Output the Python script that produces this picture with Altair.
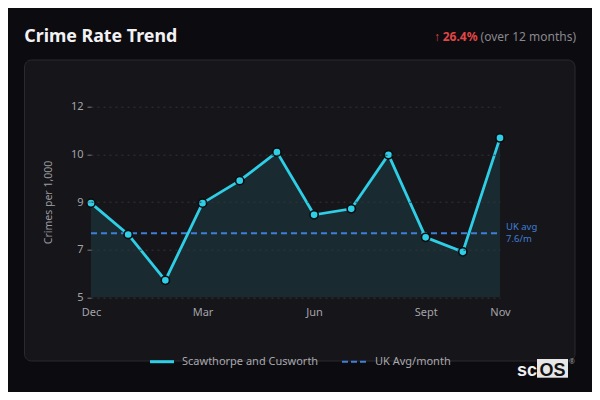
import altair as alt
import numpy as np
import pandas as pd

# ---- data ----
months = ["Dec", "Jan", "Feb", "Mar", "Apr", "May", "Jun", "Jul", "Aug", "Sept", "Oct", "Nov"]
rates = [8.66, 7.56, 5.95, 8.66, 9.45, 10.45, 8.25, 8.46, 10.36, 7.46, 6.95, 10.95]
shown_months = ["Dec", "Mar", "Jun", "Sept", "Nov"]
uk_avg = 7.6
area_name = "Scawthorpe and Cusworth"
avg_name = "UK Avg/month"
change_pct = "26.4%"

df = pd.DataFrame({"month": months, "rate": rates})
avg_df = pd.DataFrame({"avg": [uk_avg]})
one = pd.DataFrame({"k": [0]})

ymin = min(rates) * 0.9
ymax = max(rates) * 1.1
yticks = list(np.linspace(ymin, ymax, 5))

W, H = 409, 190.6
CYAN = "#2ecfe6"
BLUE = "#3f7fd8"
BG = "#0c0b0f"
PANEL = "#161519"
FONT = "Noto Sans"

xenc = alt.X(
    "month:O",
    sort=months,
    scale=alt.Scale(type="point", padding=0),
    axis=alt.Axis(
        values=shown_months, title=None, domain=False, ticks=False, grid=False,
        labelAngle=0, labelPadding=9, labelColor="#a4a4aa", labelFontSize=11,
        labelFont=FONT, zindex=1,
    ),
)
yscale = alt.Scale(domain=[ymin, ymax], nice=False, zero=False)
yenc = alt.Y(
    "rate:Q",
    scale=yscale,
    axis=alt.Axis(
        values=yticks, format=".0f", title=None, domain=False,
        ticks=True, tickSize=4, tickColor="#77777d", tickWidth=1,
        labelPadding=4, labelColor="#a4a4aa", labelFontSize=11, labelFont=FONT,
        grid=True, gridColor="#34343a", gridDash=[2, 4], gridWidth=1, zindex=1,
    ),
)

panel = alt.Chart(one).mark_rect(
    fill=PANEL, stroke="#2b2a30", strokeWidth=1, cornerRadius=7
).encode(
    x=alt.value(-66.5), x2=alt.value(484), y=alt.value(-46.7), y2=alt.value(254.3)
)

area = alt.Chart(df).mark_area(color=CYAN, opacity=0.12).encode(
    x=xenc, y=yenc, y2=alt.datum(ymin)
)
line = alt.Chart(df).mark_line(color=CYAN, strokeWidth=2.8).encode(x=xenc, y=yenc)
points = alt.Chart(df).mark_point(
    filled=True, fill=CYAN, stroke="#0b0b0f", strokeWidth=1.6, size=68, opacity=1
).encode(x=xenc, y=yenc)

avg_rule = alt.Chart(avg_df).mark_rule(
    color=BLUE, strokeWidth=2, strokeDash=[6, 4]
).encode(y=alt.Y("avg:Q", scale=yscale), x=alt.value(0), x2=alt.value(W))

avg_lbl1 = alt.Chart(avg_df).mark_text(
    align="left", baseline="alphabetic", dx=6, dy=-3, color=BLUE, fontSize=9.5, font=FONT
).encode(x=alt.value(W), y=alt.Y("avg:Q", scale=yscale), text=alt.value("UK avg"))
avg_lbl2 = alt.Chart(avg_df).mark_text(
    align="left", baseline="alphabetic", dx=6, dy=8.6, color=BLUE, fontSize=9.5, font=FONT
).encode(x=alt.value(W), y=alt.Y("avg:Q", scale=yscale), text=alt.value("7.6/m"))

def txt(s, x, y, **kw):
    return alt.Chart(one).mark_text(**kw).encode(
        x=alt.value(x), y=alt.value(y), text=alt.value(s)
    )

title = txt("Crime Rate Trend", -66.7, -64.4, align="left", baseline="alphabetic",
            fontSize=17.8, fontWeight="bold", color="#f2f2f4", font=FONT)
sub_gray = txt("(over 12 months)", 485, -65.7, align="right", baseline="alphabetic",
               fontSize=12, color="#88888e", font=FONT)
sub_red = txt(change_pct, 386.5, -65.7, align="right", baseline="alphabetic",
              fontSize=12, fontWeight="bold", color="#e04646", font=FONT)
sub_arrow = txt("↑", 349, -65.7, align="right", baseline="alphabetic",
                fontSize=12, color="#e04646", font=FONT)
ytitle = txt("Crimes per 1,000", -41.7, 95.8, align="center", baseline="middle",
             angle=270, fontSize=10.5, color="#9a9aa0", font=FONT)

leg1 = alt.Chart(one).mark_rule(color=CYAN, strokeWidth=3).encode(
    x=alt.value(59), x2=alt.value(83), y=alt.value(255))
leg1t = txt(area_name, 91, 255.5, align="left", baseline="middle",
            fontSize=11, color="#a8a8ae", font=FONT)
leg2 = alt.Chart(one).mark_rule(color=BLUE, strokeWidth=2, strokeDash=[6, 3]).encode(
    x=alt.value(251), x2=alt.value(275), y=alt.value(255))
leg2t = txt(avg_name, 284, 255.5, align="left", baseline="middle",
            fontSize=11, color="#a8a8ae", font=FONT)

logo_box = alt.Chart(one).mark_rect(fill="#e6e6e6").encode(
    x=alt.value(446), x2=alt.value(477), y=alt.value(252.3), y2=alt.value(271))
logo_sc = txt("sc", 446, 269.5, align="right", baseline="alphabetic", fontSize=18,
              fontWeight="bold", color="#f0f0f0", font="Liberation Sans")
logo_os = txt("OS", 461.5, 269.5, align="center", baseline="alphabetic", fontSize=18,
              fontWeight="bold", color="#111114", font="Liberation Sans")
logo_r = txt("®", 481, 255, align="center", baseline="middle", fontSize=7,
             color="#9a9a9a", font=FONT)

chart = alt.layer(
    panel, area, avg_rule, line, points, avg_lbl1, avg_lbl2,
    title, sub_gray, sub_red, sub_arrow, ytitle,
    leg1, leg1t, leg2, leg2t, logo_box, logo_sc, logo_os, logo_r,
).properties(
    width=W, height=H,
    padding={"left": 83, "top": 98.7, "right": 92, "bottom": 94.7},
    autosize=alt.AutoSizeParams(type="none"),
    background=BG,
).configure_view(stroke=None)

chart.save("out.html", embed_options={"renderer": "svg", "actions": False})
